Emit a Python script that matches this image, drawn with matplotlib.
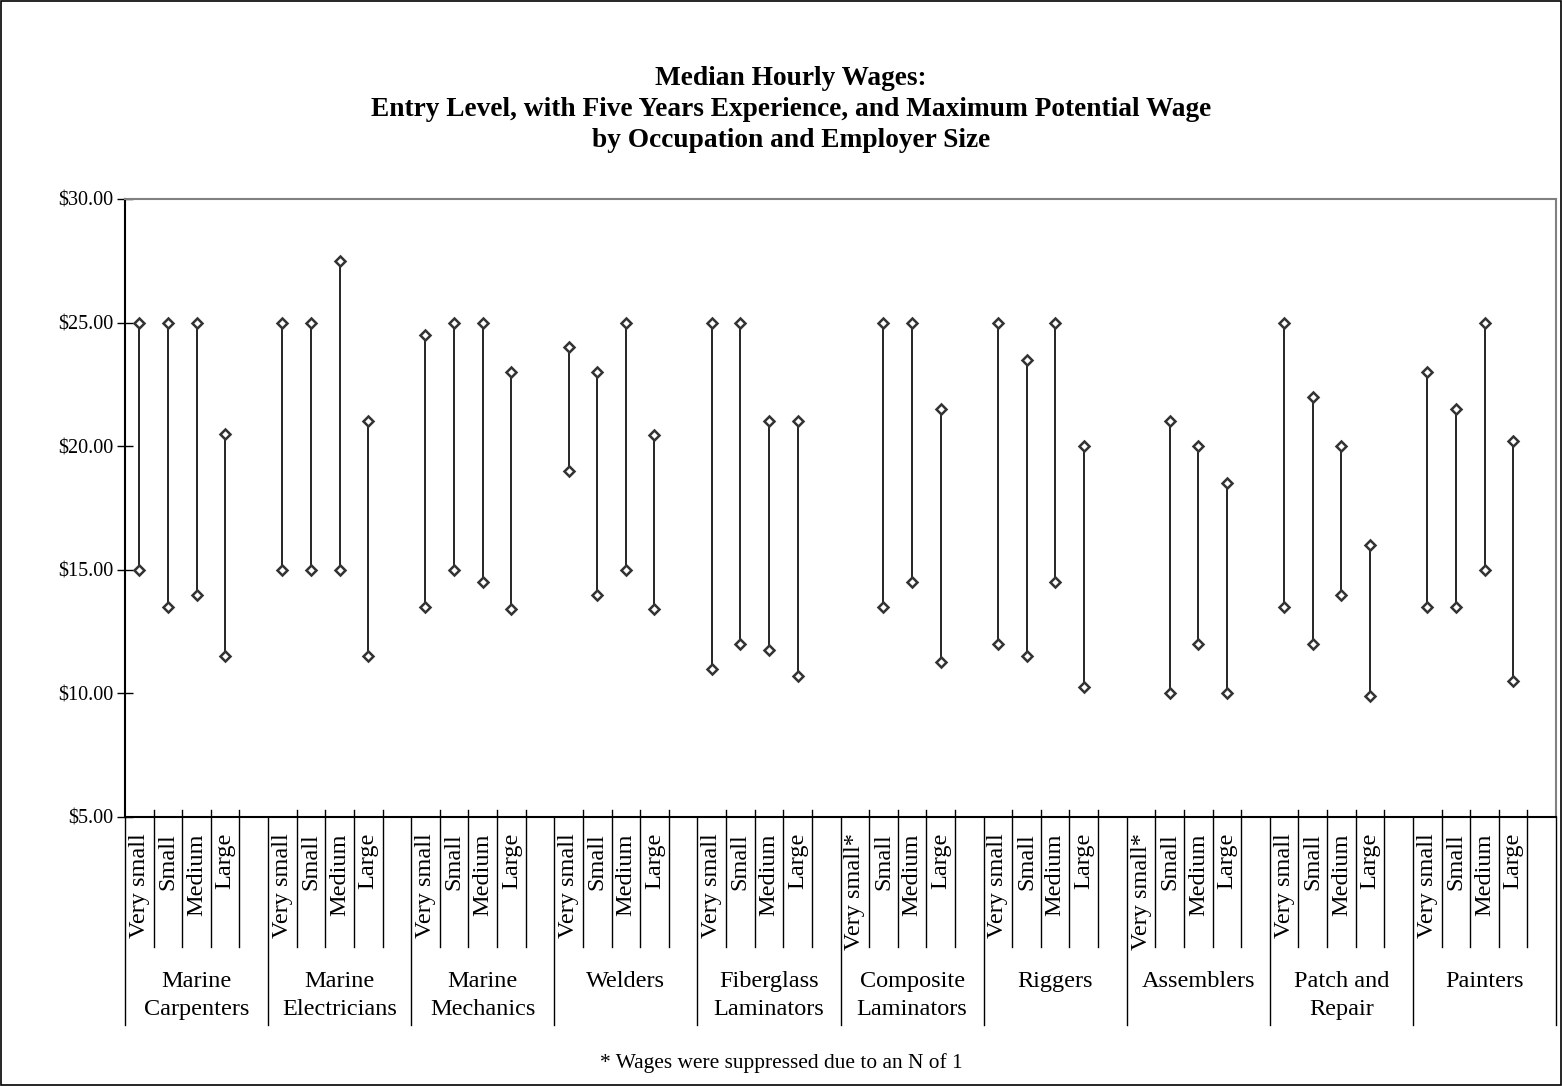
import numpy as np
import matplotlib
matplotlib.use("Agg")
import matplotlib.pyplot as plt
from matplotlib.patches import Rectangle

plt.rcParams['font.family'] = ['Liberation Serif', 'DejaVu Serif']

# occupations and employer sizes
groups = ['Marine\nCarpenters', 'Marine\nElectricians', 'Marine\nMechanics', 'Welders',
          'Fiberglass\nLaminators', 'Composite\nLaminators', 'Riggers', 'Assemblers',
          'Patch and\nRepair', 'Painters']
sizes = ['Very small', 'Small', 'Medium', 'Large']
suppressed = [5, 7]   # groups where "Very small" has N of 1

# entry level (low) and maximum potential (high) wages, 4 sizes per occupation
low = [
    [15.0, 13.5, 14.0, 11.5],
    [15.0, 15.0, 15.0, 11.5],
    [13.5, 15.0, 14.5, 13.4],
    [19.0, 14.0, 15.0, 13.4],
    [11.0, 12.0, 11.75, 10.7],
    [None, 13.5, 14.5, 11.25],
    [12.0, 11.5, 14.5, 10.25],
    [None, 10.0, 12.0, 10.0],
    [13.5, 12.0, 14.0, 9.9],
    [13.5, 13.5, 15.0, 10.5],
]
high = [
    [25.0, 25.0, 25.0, 20.5],
    [25.0, 25.0, 27.5, 21.0],
    [24.5, 25.0, 25.0, 23.0],
    [24.0, 23.0, 25.0, 20.45],
    [25.0, 25.0, 21.0, 21.0],
    [None, 25.0, 25.0, 21.5],
    [25.0, 23.5, 25.0, 20.0],
    [None, 21.0, 20.0, 18.5],
    [25.0, 22.0, 20.0, 16.0],
    [23.0, 21.5, 25.0, 20.2],
]

slots = len(sizes) + 1
n = len(groups) * slots

fig = plt.figure(figsize=(15.62, 10.86), dpi=100)
ax = fig.add_axes([0.080, 0.2477, 0.9962 - 0.080, 0.8168 - 0.2477])

xs, lo, hi = [], [], []
for g in range(len(groups)):
    for s in range(len(sizes)):
        if low[g][s] is None:
            continue
        xs.append(g * slots + s + 0.5)
        lo.append(low[g][s])
        hi.append(high[g][s])
xs = np.array(xs)

ax.vlines(xs, lo, hi, color='black', lw=1.2, zorder=2)
ax.plot(xs, lo, 'D', mfc='white', mec='#333333', ms=5.5, mew=1.8, ls='none', zorder=3)
ax.plot(xs, hi, 'D', mfc='white', mec='#333333', ms=5.5, mew=1.8, ls='none', zorder=3)

ax.set_xlim(0, n)
ax.set_ylim(5, 30)
ax.set_yticks(np.arange(5, 31, 5))
ax.set_yticklabels(['$%.2f' % v for v in np.arange(5, 31, 5)], fontsize=14.5)
ax.tick_params(axis='y', direction='inout', length=11, width=1, pad=3)
ax.set_xticks([])

for side in ['top', 'right']:
    ax.spines[side].set_color('#808080')
    ax.spines[side].set_linewidth(1.5)
for side in ['left', 'bottom']:
    ax.spines[side].set_color('black')
    ax.spines[side].set_linewidth(1.5)

# category axis: size labels, separators and occupation labels
tr = ax.get_xaxis_transform()
for k in range(n + 1):
    if k % slots == 0:
        ax.plot([k, k], [0, -0.3366], color='black', lw=1, transform=tr, clip_on=False)
    else:
        ax.plot([k, k], [0.0113, -0.2104], color='black', lw=1, transform=tr, clip_on=False)

for g, name in enumerate(groups):
    for s, lab in enumerate(sizes):
        if lab == 'Very small' and g in suppressed:
            lab = 'Very small*'
        ax.text(g * slots + s + 0.5, -0.026, lab, rotation=90, ha='center', va='top',
                fontsize=17.5, transform=tr)
    ax.text(g * slots + slots / 2, -0.249, name, ha='center', va='top',
            fontsize=17.5, linespacing=1.42, transform=tr)

fig.text(0.5064, 0.899, 'Median Hourly Wages:\nEntry Level, with Five Years Experience, and Maximum Potential Wage\nby Occupation and Employer Size',
         ha='center', va='center', fontsize=19.7, fontweight='bold', linespacing=1.32)
fig.text(0.5, 0.021, '* Wages were suppressed due to an N of 1', ha='center', va='center', fontsize=15.4)

fig.patches.append(Rectangle((0.0005, 0.0007), 0.999, 0.9986, transform=fig.transFigure,
                             fill=False, edgecolor='black', lw=1.2))

fig.savefig('out.png', dpi=100)
